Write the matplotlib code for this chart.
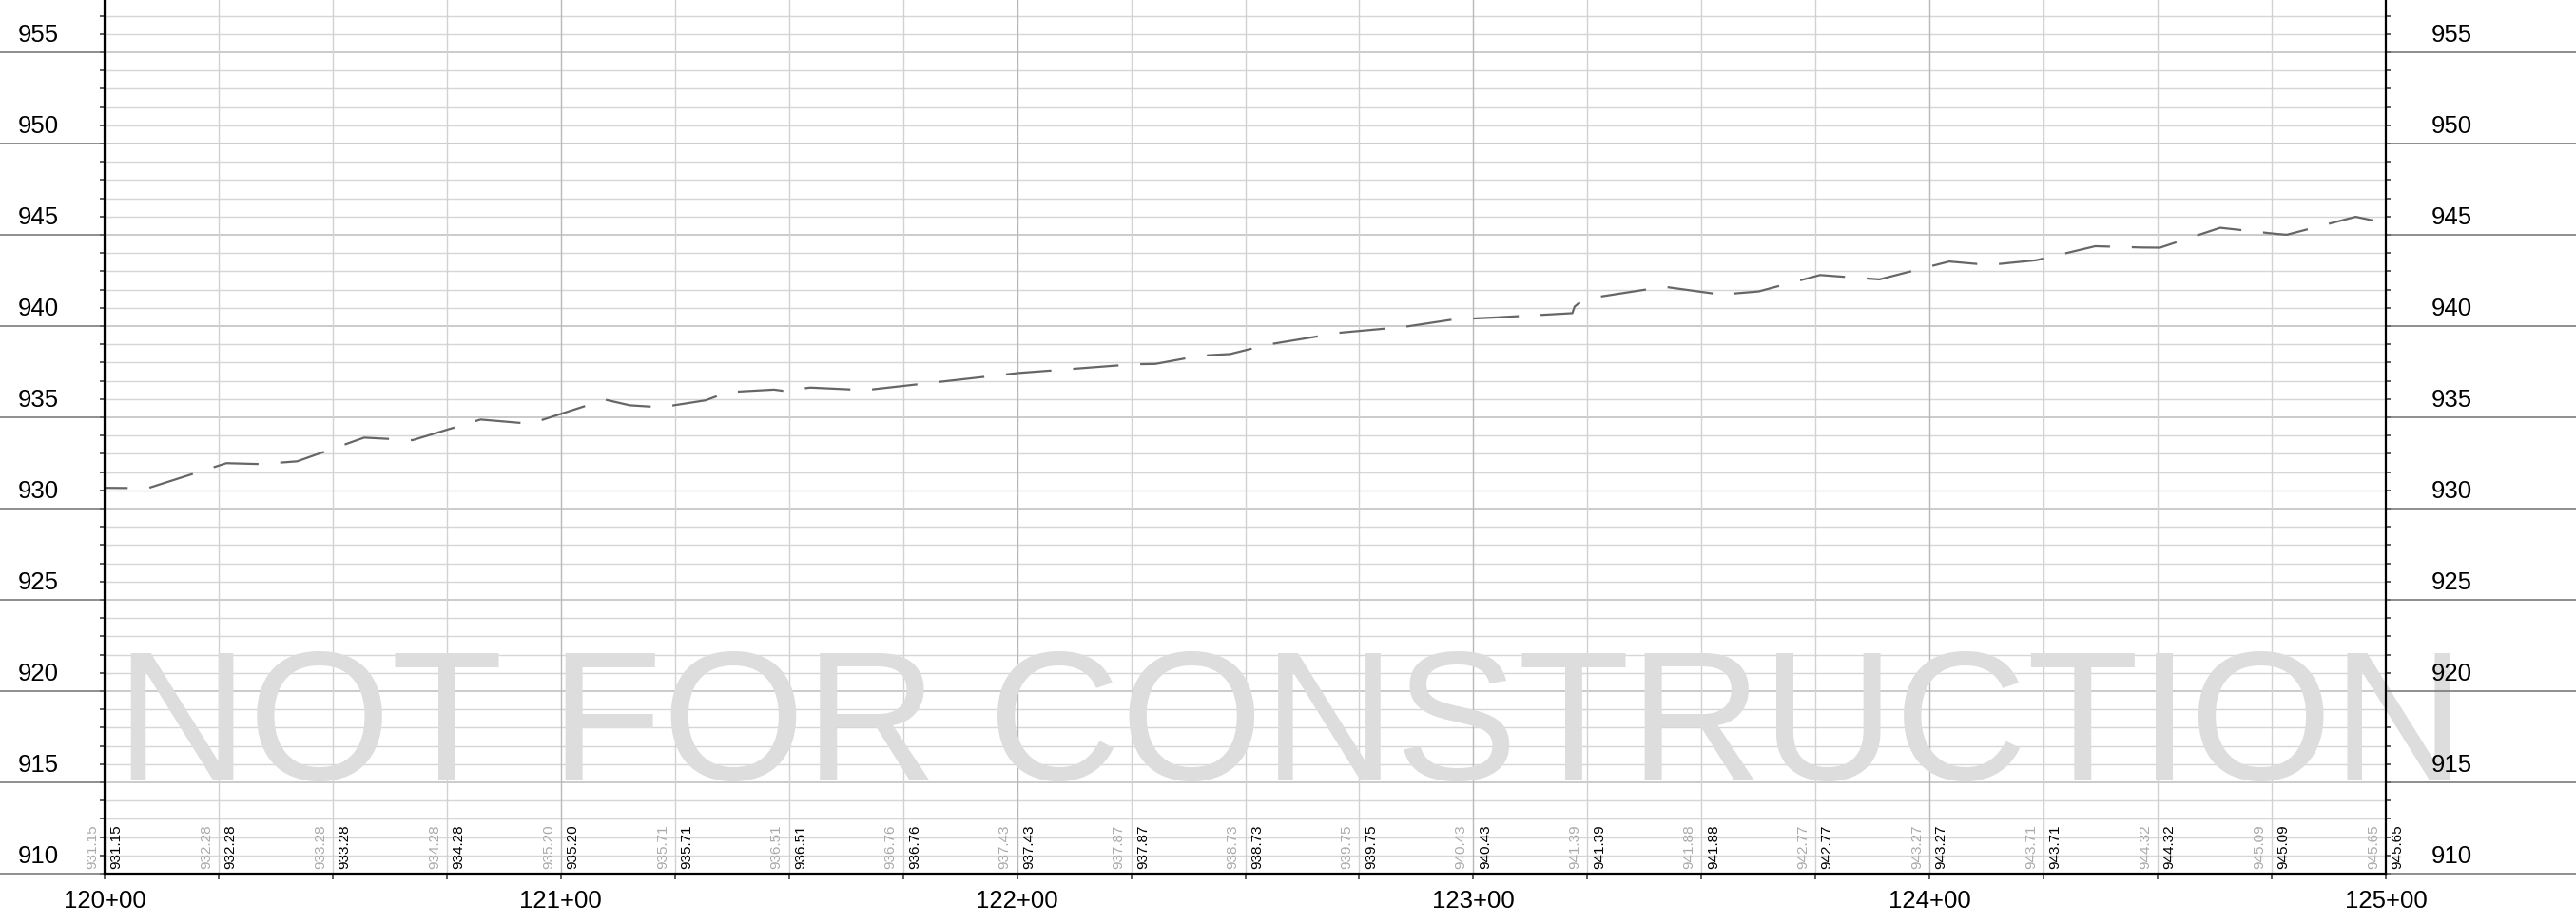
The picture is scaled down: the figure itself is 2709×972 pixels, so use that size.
import numpy as np
import matplotlib
matplotlib.use('Agg')
import matplotlib.pyplot as plt
from matplotlib.ticker import FixedLocator, FuncFormatter

plt.rcParams['font.family'] = ['Liberation Sans', 'DejaVu Sans']
plt.rcParams['lines.scale_dashes'] = False

# Profile vertices (station in ft, elevation in ft)
profile_sta = [12000, 12009.5, 12026.7, 12034.2, 12042.2, 12056.9, 12067.5, 12082.4, 12093.3,
               12109.7, 12115.1, 12122.0, 12131.7, 12136.6, 12146.7, 12148.8, 12150.8, 12154.7,
               12166.8, 12200.3, 12225.5, 12230.3, 12240.1, 12246.7, 12255.0, 12270.8, 12284.9,
               12294.9, 12300.0, 12304.5, 12321.7, 12322.2, 12323.1, 12328.1, 12341.8, 12354.3,
               12362.5, 12376.0, 12389.0, 12404.3, 12413.0, 12423.4, 12436.3, 12446.5, 12450.5,
               12463.7, 12475.8, 12478.3, 12493.4, 12500.0]
profile_elev = [931.14, 931.12, 932.49, 932.44, 932.59, 933.89, 933.75, 934.88, 934.65,
                935.97, 935.66, 935.55, 935.93, 936.38, 936.52, 936.45, 936.52, 936.63,
                936.49, 937.43, 937.91, 937.93, 938.38, 938.47, 938.99, 939.64, 939.96,
                940.34, 940.42, 940.47, 940.71, 941.07, 941.25, 941.63, 942.16, 941.73,
                941.90, 942.80, 942.56, 943.54, 943.35, 943.61, 944.38, 944.31, 944.30,
                945.39, 945.06, 945.01, 945.99, 945.64]

# Elevation callouts every 25 ft (existing = grey, proposed = black)
label_sta = list(range(12000, 12501, 25))
label_elev = ['931.15', '932.28', '933.28', '934.28', '935.20', '935.71', '936.51',
              '936.76', '937.43', '937.87', '938.73', '939.75', '940.43', '941.39',
              '941.88', '942.77', '943.27', '943.71', '944.32', '945.09', '945.65']

elev_ticks = list(range(910, 956, 5))
x_min, x_max = 12000, 12500
y_min, y_max = 910, 957.87

W, H = 2709, 972
fig = plt.figure(figsize=(W / 100, H / 100), dpi=100)
ax = fig.add_axes([110 / W, (H - 919) / H, 2399 / W, 919 / H])
ax.set_xlim(x_min, x_max)
ax.set_ylim(y_min, y_max)

# grid
for y in range(910, 958):
    major = (y % 5 == 0)
    ax.axhline(y, color='#bdbdbd' if major else '#d6d6d6', lw=1.1 if major else 1.0, zorder=1)
for x in range(x_min, x_max + 1, 25):
    major = (x % 100 == 0)
    ax.axvline(x, color='#b8b8b8' if major else '#d2d2d2', lw=1.0, zorder=1)

# watermark (behind the labels)
ax.text(12259.8, 915.14, 'NOT FOR CONSTRUCTION', ha='center', va='baseline', fontsize=138.8,
        color='#dddddd', clip_on=False, zorder=2)

# major elevation lines running out into the margins
ytr = ax.get_yaxis_transform()
for v in elev_ticks:
    ax.plot([-110 / 2399, 0], [v, v], transform=ytr, color='#707070', lw=1.1, clip_on=False, zorder=3)
    ax.plot([1, 1 + 200 / 2399], [v, v], transform=ytr, color='#707070', lw=1.1, clip_on=False, zorder=3)
    ax.text(-70 / 2399, v + 0.95, str(v), transform=ytr, ha='center', va='center',
            fontsize=18.5, zorder=7)
    ax.text(1 + 69 / 2399, v + 0.95, str(v), transform=ytr, ha='center', va='center',
            fontsize=18.5, zorder=7)

# profile line
ax.plot(profile_sta, profile_elev, color='#666666', lw=1.6,
        linestyle=(17, (34.5, 16.5)), solid_capstyle='butt', dash_capstyle='butt', zorder=4)

# elevation callouts
for s, t in zip(label_sta, label_elev):
    ax.annotate(t, (s, y_min), xytext=(-13, 5), textcoords='offset pixels', rotation=90,
                ha='center', va='bottom', fontsize=11, color='#aaaaaa', annotation_clip=False, zorder=5)
    ax.annotate(t, (s, y_min), xytext=(12.5, 5), textcoords='offset pixels', rotation=90,
                ha='center', va='bottom', fontsize=11, color='black', annotation_clip=False, zorder=5)

# axes and ticks
ax.spines['top'].set_visible(False)
for side in ['left', 'right', 'bottom']:
    ax.spines[side].set_linewidth(1.6)
    ax.spines[side].set_color('black')
    ax.spines[side].set_zorder(6)

ax.yaxis.set_major_locator(FixedLocator(range(910, 958)))
ax.tick_params(axis='y', which='both', left=True, right=True, labelleft=False, labelright=False,
               direction='out', length=3.8, width=1.1, color='#333333')
ax.xaxis.set_major_locator(FixedLocator(label_sta))
ax.xaxis.set_major_formatter(FuncFormatter(
    lambda s, p: f"{int(s) // 100}+{int(s) % 100:02d}" if int(round(s)) % 100 == 0 else ''))
ax.tick_params(axis='x', direction='out', length=4.5, width=1.1, color='#333333',
               labelsize=18.5, pad=8)

fig.savefig('out.png', dpi=100)
